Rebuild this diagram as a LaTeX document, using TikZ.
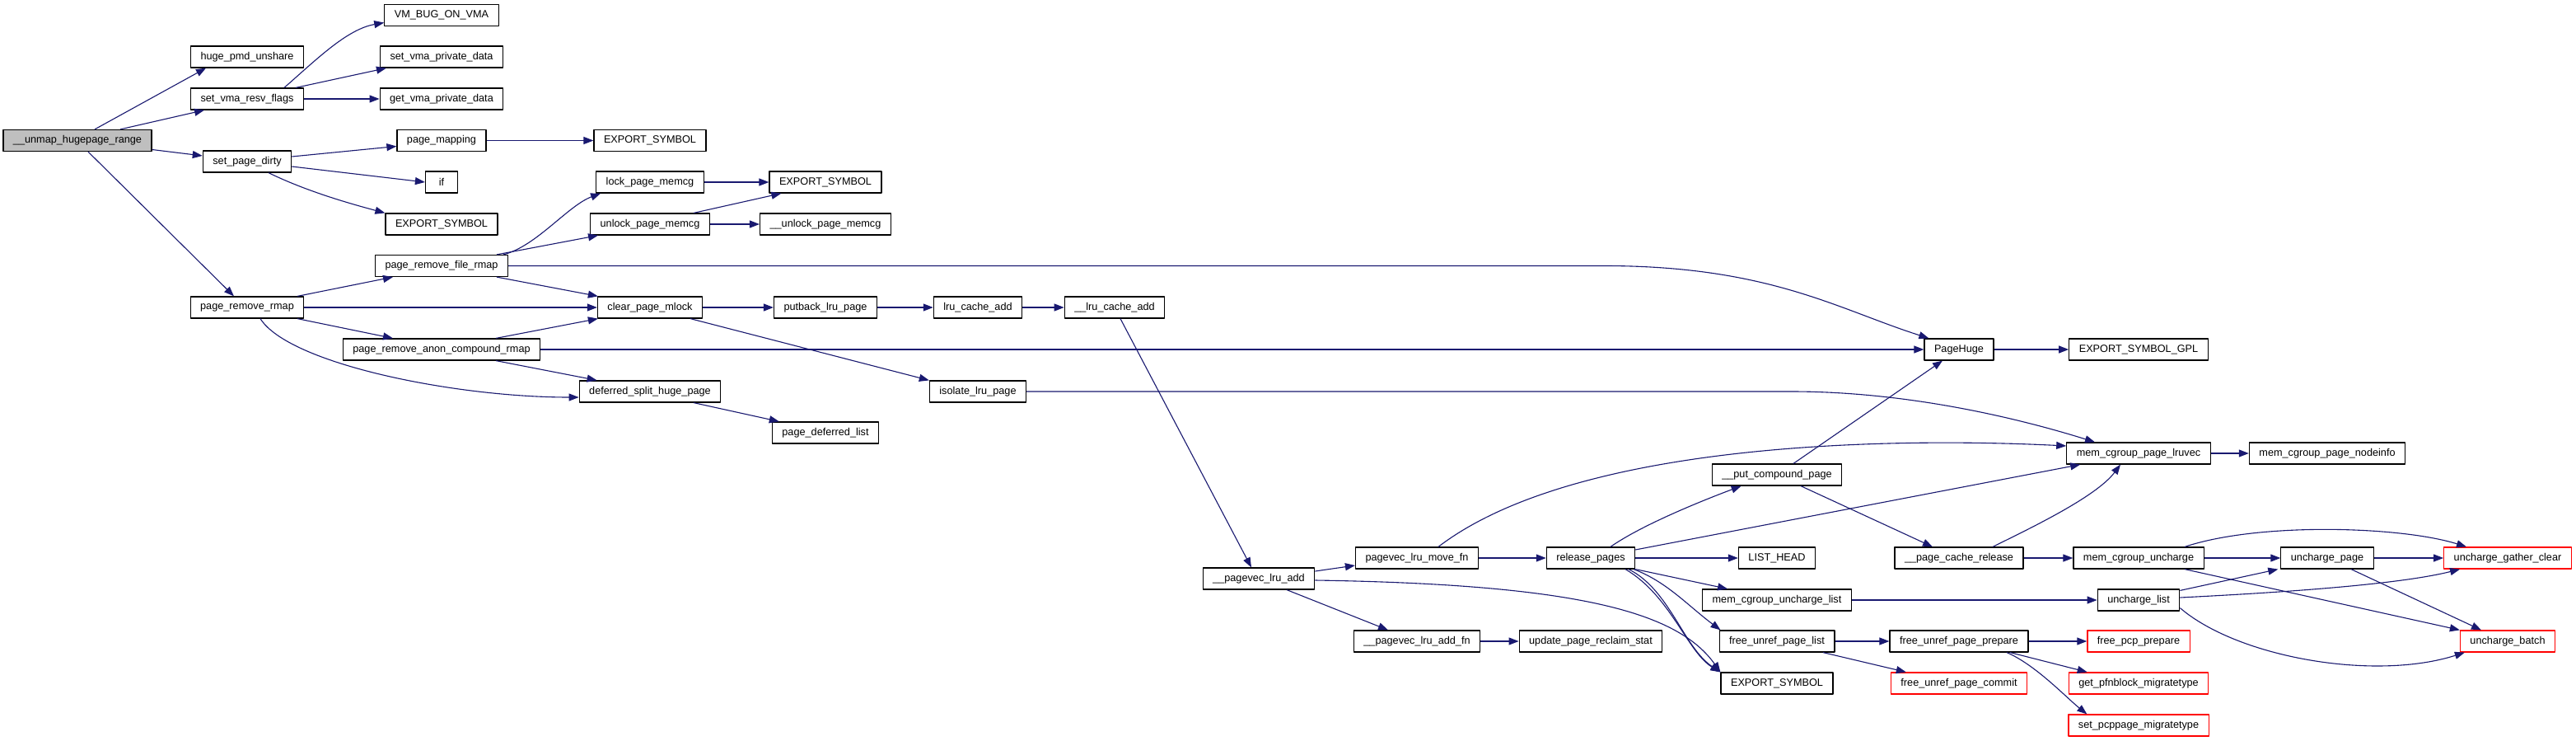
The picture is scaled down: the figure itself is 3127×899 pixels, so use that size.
\documentclass[tikz,border=0pt]{standalone}
\usepackage{fontspec}
\setmainfont{Liberation Sans}
\usetikzlibrary{arrows.meta,calc}
\definecolor{edgeblue}{HTML}{191970}
\definecolor{undocred}{HTML}{FF0000}

\begin{document}
\begin{tikzpicture}[x=1pt, y=-1pt, >={Triangle[length=12pt,width=9pt]}, line join=round]
  % Styles for the function boxes and the call arrows
  \tikzset{fn/.style={draw=black, line width=1.2pt, fill=white, minimum height=26pt,
      minimum width=39pt, inner xsep=12pt, inner ysep=0pt, font=\fontsize{12.7}{15}\selectfont},
    rootfn/.style={fn, fill=gray!50},
    redfn/.style={fn, draw=undocred},
    calls/.style={->, draw=edgeblue, line width=1.1pt}}

  % Page frame
  \path[fill=white] (0,0) rectangle (3127,899);
  \useasboundingbox (0,0) rectangle (3127,899);

  % Column 0 and 1
  \node[rootfn] (unmap) at (94,170.5) {\_\_unmap\_hugepage\_range};
  \node[fn] (hpmd) at (300,69) {huge\_pmd\_unshare};
  \node[fn] (vmaresv) at (300,120) {set\_vma\_resv\_flags};
  \node[fn] (setdirty) at (300,196) {set\_page\_dirty};
  \node[fn] (prmap) at (300,373) {page\_remove\_rmap};

  % Column 2
  \node[fn] (vmbug) at (536,18.5) {VM\_BUG\_ON\_VMA};
  \node[fn] (setpriv) at (536,69) {set\_vma\_private\_data};
  \node[fn] (getpriv) at (536,120) {get\_vma\_private\_data};
  \node[fn] (pgmap) at (536,170.5) {page\_mapping};
  \node[fn] (iff) at (536,221) {if};
  \node[fn] (expA) at (536,272) {EXPORT\_SYMBOL};
  \node[fn] (prfile) at (536,322.5) {page\_remove\_file\_rmap};
  \node[fn] (pranon) at (536,424) {page\_remove\_anon\_compound\_rmap};

  % Column 3 and 4
  \node[fn] (expB) at (789,170.5) {EXPORT\_SYMBOL};
  \node[fn] (lockmem) at (789,221) {lock\_page\_memcg};
  \node[fn] (unlockmem) at (789,272) {unlock\_page\_memcg};
  \node[fn] (clrmlock) at (789,373) {clear\_page\_mlock};
  \node[fn] (deferred) at (789,475) {deferred\_split\_huge\_page};
  \node[fn] (expC) at (1002,221) {EXPORT\_SYMBOL};
  \node[fn] (unlockint) at (1002,272) {\_\_unlock\_page\_memcg};
  \node[fn] (putback) at (1002,373) {putback\_lru\_page};
  \node[fn] (deflist) at (1002,525) {page\_deferred\_list};

  % Column 5 to 9
  \node[fn] (lruadd) at (1187,373) {lru\_cache\_add};
  \node[fn] (isolate) at (1187,475) {isolate\_lru\_page};
  \node[fn] (lruaddint) at (1353,373) {\_\_lru\_cache\_add};
  \node[fn] (pvadd) at (1528,702) {\_\_pagevec\_lru\_add};
  \node[fn] (pvmove) at (1720,677) {pagevec\_lru\_move\_fn};
  \node[fn] (pvaddfn) at (1720,778) {\_\_pagevec\_lru\_add\_fn};
  \node[fn] (release) at (1931,677) {release\_pages};
  \node[fn] (reclaim) at (1931,778) {update\_page\_reclaim\_stat};

  % Column 10 and 11
  \node[fn] (putcomp) at (2157,576) {\_\_put\_compound\_page};
  \node[fn] (listhead) at (2157,677) {LIST\_HEAD};
  \node[fn] (unchlist) at (2157,728) {mem\_cgroup\_uncharge\_list};
  \node[fn] (freelist) at (2157,778) {free\_unref\_page\_list};
  \node[fn] (expD) at (2157,829) {EXPORT\_SYMBOL};
  \node[fn] (pagehuge) at (2378,424) {PageHuge};
  \node[fn] (cacherel) at (2378,677) {\_\_page\_cache\_release};
  \node[fn] (freeprep) at (2378,778) {free\_unref\_page\_prepare};
  \node[redfn] (commit) at (2378,829) {free\_unref\_page\_commit};

  % Column 12 to 14
  \node[fn] (expgpl) at (2596,424) {EXPORT\_SYMBOL\_GPL};
  \node[fn] (lruvec) at (2596,550) {mem\_cgroup\_page\_lruvec};
  \node[fn] (uncharge) at (2596,677) {mem\_cgroup\_uncharge};
  \node[fn] (uclist) at (2596,728) {uncharge\_list};
  \node[redfn] (pcpprep) at (2596,778) {free\_pcp\_prepare};
  \node[redfn] (pfnblock) at (2596,829) {get\_pfnblock\_migratetype};
  \node[redfn] (pcppage) at (2596,880) {set\_pcppage\_migratetype};
  \node[fn] (nodeinfo) at (2825,550) {mem\_cgroup\_page\_nodeinfo};
  \node[fn] (ucpage) at (2825,677) {uncharge\_page};
  \node[redfn] (gather) at (3044,677) {uncharge\_gather\_clear};
  \node[redfn] (batch) at (3044,778) {uncharge\_batch};

  % Calls out of __unmap_hugepage_range
  \draw[calls] ($(unmap.north)+(21,0)$) -- ($(hpmd.south)+(-50,0)$);
  \draw[calls] ($(unmap.north)+(52,0)$) -- ($(vmaresv.south)+(-52,0)$);
  \draw[calls] ($(unmap.east)+(0,11)$) -- ($(setdirty.west)+(0,-7)$);
  \draw[calls] ($(unmap.south)+(13,0)$) -- ($(prmap.north)+(-16,0)$);

  % set_vma_resv_flags and set_page_dirty
  \draw[calls] ($(vmaresv.north)+(45,0)$) .. controls +(40,-35) and +(-45,8) .. ($(vmbug.west)+(0,9)$);
  \draw[calls] ($(vmaresv.north)+(59,0)$) -- ($(setpriv.south west)+(8,0)$);
  \draw[calls] (vmaresv.east) -- (getpriv.west);
  \draw[calls] ($(setdirty.east)+(0,-6)$) -- ($(pgmap.west)+(0,7)$);
  \draw[calls] ($(setdirty.east)+(0,6)$) -- (iff.west);
  \draw[calls] ($(setdirty.south)+(26,0)$) .. controls +(45,22) and +(-45,-12) .. (expA.north west);
  \draw[calls] (pgmap.east) -- (expB.west);

  % page_remove_rmap and its callees
  \draw[calls] ($(prmap.north)+(61,0)$) -- ($(prfile.south)+(-59,0)$);
  \draw[calls] (prmap.east) -- (clrmlock.west);
  \draw[calls] ($(prmap.south)+(61,0)$) -- ($(pranon.north)+(-59,0)$);
  \draw[calls] ($(prmap.south)+(16,0)$) .. controls +(35,55) and +(-150,0) .. ($(deferred.west)+(0,7)$);
  \draw[calls] ($(prfile.north)+(75,0)$) .. controls +(40,-10) and +(-40,15) .. ($(lockmem.south west)+(6,0)$);
  \draw[calls] ($(prfile.north)+(67,0)$) -- ($(unlockmem.south west)+(10,0)$);
  \draw[calls] ($(prfile.south)+(67,0)$) -- ($(clrmlock.north west)+(1,0)$);
  \draw[calls] (prfile.east) -- ++(1330,0) .. controls +(200,0) and +(-110,-35) .. ($(pagehuge.north west)+(6,0)$);
  \draw[calls] ($(pranon.north)+(66,0)$) -- ($(clrmlock.south west)+(1,0)$);
  \draw[calls] ($(pranon.south)+(66,0)$) -- ($(deferred.north west)+(22,0)$);
  \draw[calls] (pranon.east) -- (pagehuge.west);
  \draw[calls] (lockmem.east) -- (expC.west);
  \draw[calls] ($(unlockmem.north)+(53,0)$) -- ($(expC.south west)+(15,0)$);
  \draw[calls] (unlockmem.east) -- (unlockint.west);
  \draw[calls] (clrmlock.east) -- (putback.west);
  \draw[calls] ($(clrmlock.south)+(49,0)$) -- (isolate.north west);
  \draw[calls] ($(deferred.south)+(53,0)$) -- ($(deflist.north west)+(9,0)$);

  % lru cache chain
  \draw[calls] (putback.east) -- (lruadd.west);
  \draw[calls] (lruadd.east) -- (lruaddint.west);
  \draw[calls] ($(lruaddint.south)+(7,0)$) -- ($(pvadd.north)+(-9,0)$);
  \draw[calls] (isolate.east) -- ++(928,0) .. controls +(150,0) and +(-80,-25) .. ($(lruvec.north)+(-53,0)$);
  \draw[calls] ($(pvadd.east)+(0,-9)$) -- ($(pvmove.west)+(0,9)$);
  \draw[calls] ($(pvadd.south)+(34,0)$) -- ($(pvaddfn.north)+(-35,0)$);
  \draw[calls] ($(pvadd.east)+(0,2)$) .. controls +(330,5) and +(-50,-70) .. (expD.north west);
  \draw[calls] ($(pvmove.north)+(26,0)$) .. controls +(170,-130) and +(-200,-10) .. ($(lruvec.west)+(0,-9)$);
  \draw[calls] (pvmove.east) -- (release.west);
  \draw[calls] (pvaddfn.east) -- (reclaim.west);

  % release_pages
  \draw[calls] ($(release.north)+(24,0)$) .. controls +(40,-28) and +(-40,15) .. ($(putcomp.south west)+(36,0)$);
  \draw[calls] ($(release.east)+(0,-10)$) -- ($(lruvec.south west)+(17,0)$);
  \draw[calls] (release.east) -- (listhead.west);
  \draw[calls] (release.south east) -- ($(unchlist.north west)+(31,0)$);
  \draw[calls] ($(release.south)+(52,0)$) .. controls +(40,15) and +(-40,-30) .. ($(freelist.north west)+(2,0)$);
  \draw[calls] ($(release.south)+(46,0)$) .. controls +(50,25) and +(-45,-30) .. (expD.north west);
  \draw[calls] ($(release.south)+(42,0)$) .. controls +(55,32) and +(-40,-24) .. (expD.north west);

  % __put_compound_page and __page_cache_release
  \draw[calls] ($(putcomp.north)+(20,0)$) -- ($(pagehuge.south)+(-20,0)$);
  \draw[calls] ($(putcomp.south)+(29,0)$) -- ($(cacherel.north)+(-32,0)$);
  \draw[calls] (cacherel.east) -- (uncharge.west);
  \draw[calls] ($(cacherel.north)+(41,0)$) .. controls +(40,-20) and +(-30,40) .. ($(lruvec.south)+(-22,0)$);
  \draw[calls] (pagehuge.east) -- (expgpl.west);
  \draw[calls] (lruvec.east) -- (nodeinfo.west);

  % uncharge paths
  \draw[calls] (uncharge.east) -- (ucpage.west);
  \draw[calls] ($(uncharge.north)+(56,0)$) .. controls +(90,-30) and +(-80,-25) .. ($(gather.north)+(-50,0)$);
  \draw[calls] ($(uncharge.south)+(56,0)$) -- (batch.north west);
  \draw[calls] (unchlist.east) -- (uclist.west);
  \draw[calls] ($(uclist.north east)+(0,2)$) -- ($(ucpage.south west)+(-3,0)$);
  \draw[calls] ($(uclist.east)+(0,-3)$) .. controls +(100,-5) and +(-80,20) .. ($(gather.south west)+(20,0)$);
  \draw[calls] ($(uclist.south east)+(0,-4)$) .. controls +(70,60) and +(-110,35) .. ($(batch.south west)+(6,0)$);
  \draw[calls] (ucpage.east) -- (gather.west);
  \draw[calls] ($(ucpage.south)+(29,0)$) -- ($(batch.north)+(-32,0)$);

  % free_unref_page paths
  \draw[calls] (freelist.east) -- (freeprep.west);
  \draw[calls] ($(freelist.south)+(56,0)$) -- ($(commit.north west)+(19,0)$);
  \draw[calls] (freeprep.east) -- (pcpprep.west);
  \draw[calls] ($(freeprep.south)+(62,0)$) -- ($(pfnblock.north west)+(23,0)$);
  \draw[calls] ($(freeprep.south)+(58,0)$) .. controls +(35,15) and +(-25,-20) .. ($(pcppage.north west)+(23,0)$);

\end{tikzpicture}
\end{document}
